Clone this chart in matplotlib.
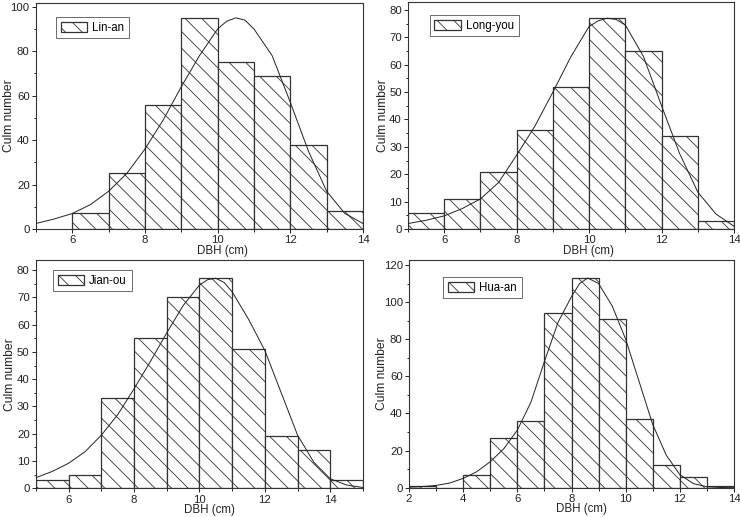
import numpy as np
import matplotlib
matplotlib.use("Agg")
import matplotlib.pyplot as plt
from matplotlib.ticker import MultipleLocator

plt.rcParams['font.family'] = ['Liberation Sans', 'DejaVu Sans']
plt.rcParams['hatch.linewidth'] = 0.6
plt.rcParams['hatch.color'] = '#333333'

# histogram bins (left edges) and counts
linan_left = [6, 7, 8, 9, 10, 11, 12, 13]
linan_count = [7, 25, 56, 95, 75, 69, 38, 8]
longyou_left = [5, 6, 7, 8, 9, 10, 11, 12, 13]
longyou_count = [6, 11, 21, 36, 52, 77, 65, 34, 3]
jianou_left = [5, 6, 7, 8, 9, 10, 11, 12, 13, 14]
jianou_count = [3, 5, 33, 55, 70, 77, 51, 19, 14, 3]
huaan_left = [2, 3, 4, 5, 6, 7, 8, 9, 10, 11, 12, 13]
huaan_count = [1, 0, 7, 27, 36, 94, 113, 91, 37, 12, 6, 1]

# fitted curves, points
linan_cx = [5, 5.5, 6, 6.5, 7, 7.5, 8, 8.5, 9, 9.5, 10, 10.25, 10.5, 10.75, 11, 11.5, 12, 12.5, 13, 13.5, 14]
linan_cy = [2.5, 4.5, 7, 11, 17, 25, 36, 49, 64, 78, 90, 93.5, 95, 94, 90, 78, 57, 35, 17, 7, 2.5]
longyou_cx = [5, 5.5, 6, 6.5, 7, 7.5, 8, 8.5, 9, 9.5, 10, 10.25, 10.5, 10.75, 11, 11.5, 12, 12.5, 13, 13.5, 14]
longyou_cy = [2, 3.2, 4.8, 7.5, 11, 17, 27, 37.5, 50, 63, 74, 76, 77, 76.5, 74.5, 63, 45, 27.5, 13.5, 5.5, 1]
jianou_cx = [5, 5.5, 6, 6.5, 7, 7.5, 8, 8.5, 9, 9.5, 10, 10.25, 10.5, 10.75, 11, 11.5, 12, 12.5, 13, 13.5, 14, 14.5, 15]
jianou_cy = [3.9, 6.2, 9.2, 13.4, 19.5, 27, 36.5, 46.5, 57, 67, 74.5, 76.5, 77, 75.5, 72, 62, 50.5, 35, 19.5, 9.5, 3.5, 1.2, 0.3]
huaan_cx = [2, 2.5, 3, 3.5, 4, 4.5, 5, 5.5, 6, 6.5, 7, 7.5, 8, 8.3, 8.6, 9, 9.5, 10, 10.5, 11, 11.5, 12, 12.5, 13, 13.5, 14]
huaan_cy = [0.3, 0.6, 1.2, 2.5, 5, 8.6, 14, 21, 31, 46, 68, 89, 103, 110, 113, 110, 98, 80, 57, 34, 17.5, 7, 2.2, 0.5, 0.1, 0]

# name, bins, counts, curve, xlim, ylim, y ticks, axes rect, legend anchor, xlabel pos, ylabel x
panels = [
    ("Lin-an", linan_left, linan_count, linan_cx, linan_cy, (5, 14), (0, 101.8), 20, 10,
     [0.0486, 0.557, 0.4419, 0.4377], (0.061, 0.937), (0.569, -0.071), -0.064),
    ("Long-you", longyou_left, longyou_count, longyou_cx, longyou_cy, (5, 14), (0, 83), 10, 5,
     [0.5514, 0.557, 0.4405, 0.4397], (0.067, 0.942), (0.554, -0.071), -0.058),
    ("Jian-ou", jianou_left, jianou_count, jianou_cx, jianou_cy, (5, 15), (0, 83.7), 10, 5,
     [0.0486, 0.0555, 0.4419, 0.4416], (0.052, 0.956), (0.532, -0.069), -0.062),
    ("Hua-an", huaan_left, huaan_count, huaan_cx, huaan_cy, (2, 14), (0, 122.7), 20, 10,
     [0.5527, 0.0567, 0.4392, 0.4404], (0.105, 0.925), (0.531, -0.069), -0.066),
]

fig = plt.figure(figsize=(7.4, 5.17), dpi=100)
edge = '#333333'

for name, left, count, cx, cy, xlim, ylim, ymaj, ymin, rect, lpos, xlab, ylab_x in panels:
    ax = fig.add_axes(rect)
    ax.bar(left, count, width=1, align='edge', facecolor='white', edgecolor=edge,
           linewidth=0.9, hatch='\\\\', label=name, zorder=2)
    ax.plot(cx, cy, color='#222222', linewidth=0.7, zorder=3)
    ax.set_xlim(*xlim)
    ax.set_ylim(*ylim)
    ax.xaxis.set_major_locator(MultipleLocator(2))
    ax.xaxis.set_minor_locator(MultipleLocator(1))
    ax.yaxis.set_major_locator(MultipleLocator(ymaj))
    ax.yaxis.set_minor_locator(MultipleLocator(ymin))
    ax.tick_params(which='both', direction='out', top=False, right=False,
                   labelsize=8.2, colors='#222222', width=0.7, pad=1.5)
    ax.tick_params(which='major', length=3)
    ax.tick_params(which='minor', length=1.8)
    for s in ax.spines.values():
        s.set_linewidth(0.8)
        s.set_color('#333333')
    ax.set_xlabel("DBH (cm)", fontsize=8.3, color='#222222')
    ax.set_ylabel("Culm number", fontsize=8.7, color='#222222')
    ax.xaxis.set_label_coords(*xlab)
    ax.yaxis.set_label_coords(ylab_x, 0.5)
    leg = ax.legend(loc='upper left', bbox_to_anchor=lpos, fontsize=8.3, frameon=True,
                    fancybox=False, borderpad=0.4, borderaxespad=0, handlelength=2.3,
                    handleheight=1.0, handletextpad=0.45)
    leg.get_frame().set_edgecolor('#444444')
    leg.get_frame().set_linewidth(0.7)

fig.savefig("out.png", dpi=100)
